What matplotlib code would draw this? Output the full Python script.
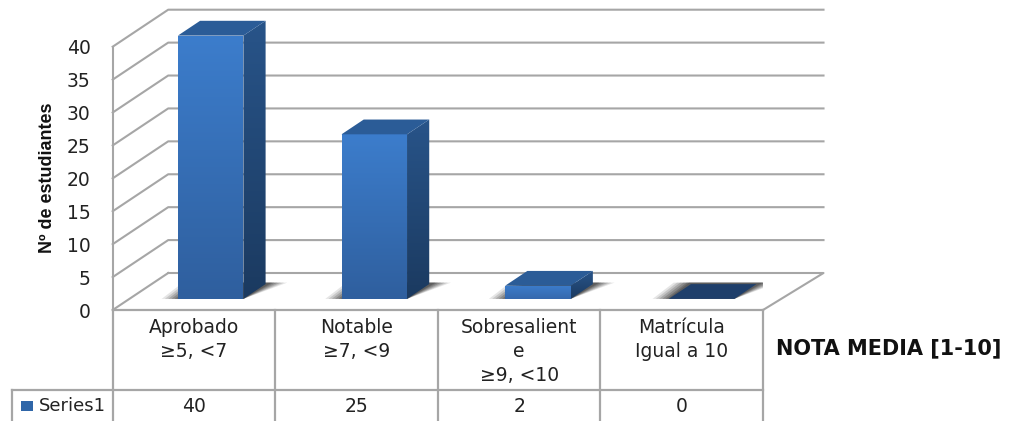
import numpy as np
import matplotlib
matplotlib.use("Agg")
import matplotlib.pyplot as plt
from matplotlib.colors import LinearSegmentedColormap
from matplotlib.lines import Line2D
from matplotlib.patches import Polygon

categories = ["Aprobado\n≥5, <7", "Notable\n≥7, <9", "Sobresalient\ne\n≥9, <10", "Matrícula\nIgual a 10"]
values = [40, 25, 2, 0]
series_name = "Series1"
yticks = [0, 5, 10, 15, 20, 25, 30, 35, 40]

W, H = 1010, 421
LEFT, RIGHT, BOTTOM, TOP = 112.7, 763.0, 310.0, 46.7
GRID = "#a6a6a6"

fig = plt.figure(figsize=(W / 100, H / 100), dpi=100)
ax = fig.add_axes([LEFT / W, 1 - BOTTOM / H, (RIGHT - LEFT) / W, (BOTTOM - TOP) / H])
ax.set_xlim(0, 4)
ax.set_ylim(0, 40)
ax.patch.set_visible(False)

# depth offset of the back wall, in data units
depth_x = 55.5 / ((RIGHT - LEFT) / 4)
depth_y = 37.0 / ((BOTTOM - TOP) / 40)
# the back wall runs a little further than the front edge
back_end = 4 + 5 / ((RIGHT - LEFT) / 4)
# so the bars are spaced a touch wider than the table columns
bar_step = 1.0065


def proj(x, v, d):
    return (x + depth_x * d, v + depth_y * d)


def px_y(y):
    # pixel row to data value, for the table under the axes
    return (BOTTOM - y) * 40 / (BOTTOM - TOP)


def px_x(x):
    return (x - LEFT) * 4 / (RIGHT - LEFT)


def grad_face(pts, c_top, c_bot, z):
    xs = [p[0] for p in pts]
    ys = [p[1] for p in pts]
    cmap = LinearSegmentedColormap.from_list("f", [c_top, c_bot])
    im = ax.imshow(np.linspace(0, 1, 128).reshape(-1, 1), cmap=cmap, aspect="auto",
                   extent=(min(xs), max(xs), min(ys), max(ys)), zorder=z, origin="upper")
    poly = Polygon(pts, closed=True, transform=ax.transData, fc="none", ec="none", clip_on=False)
    ax.add_patch(poly)
    im.set_clip_path(poly)
    im.set_clip_box(fig.bbox)


# walls and floor
for v in yticks:
    if v == 0:
        continue
    a = proj(0, v, 0)
    b = proj(0, v, 1)
    c = proj(back_end, v, 1)
    ax.plot([a[0], b[0], c[0]], [a[1], b[1], c[1]], color=GRID, lw=1.5, zorder=1, clip_on=False)
a, b, c, d = proj(0, 0, 0), proj(0, 0, 1), proj(back_end, 0, 1), proj(4, 0, 0)
ax.plot([a[0], b[0]], [a[1], b[1]], color=GRID, lw=1.5, zorder=1, clip_on=False)
ax.plot([b[0], c[0], d[0]], [b[1], c[1], d[1]], color=GRID, lw=1.5, zorder=1, clip_on=False)

# bars
bar_w = 0.403
d0, d1 = 0.3, 0.7
for i, val in enumerate(values):
    x0 = i * bar_step + 0.5 - bar_w / 2
    x1 = x0 + bar_w

    # soft floor shadow, stacked from wide and light to narrow and dark
    for grow, alpha in zip([0.1, 0.08, 0.06, 0.04, 0.02, 0.005], [0.12, 0.16, 0.2, 0.24, 0.28, 0.3]):
        sh = [proj(x0 - grow, 0, d0), proj(x1, 0, d0),
              proj(x1 + grow + 0.02, 0, d1 + 0.04), proj(x0 - grow - 0.02, 0, d1 + 0.04)]
        ax.add_patch(Polygon(sh, closed=True, fc="#303030", ec="none", alpha=alpha, zorder=2))

    if val == 0:
        top = [proj(x0, 0, d0), proj(x1, 0, d0), proj(x1, 0, d1), proj(x0, 0, d1)]
        ax.add_patch(Polygon(top, closed=True, fc="#1f3f6b", ec="none", zorder=3))
        continue

    front = [proj(x0, 0, d0), proj(x1, 0, d0), proj(x1, val, d0), proj(x0, val, d0)]
    side = [proj(x1, 0, d0), proj(x1, 0, d1), proj(x1, val, d1), proj(x1, val, d0)]
    top = [proj(x0, val, d0), proj(x1, val, d0), proj(x1, val, d1), proj(x0, val, d1)]
    c_bot = "#2f5f9e" if val > 5 else "#3568ad"
    grad_face(front, "#3c7dcc", c_bot, 4)
    grad_face(side, "#285489", "#1b3a60", 4)
    ax.add_patch(Polygon(top, closed=True, fc="#2b5c97", ec="none", zorder=4, clip_on=False))
ax.set_xlim(0, 4)
ax.set_ylim(0, 40)

# axis
ax.set_xticks([])
ax.set_yticks(yticks)
ax.tick_params(axis="y", length=0, pad=16, labelsize=13.5, labelcolor="#222222")
for name in ["top", "right", "bottom"]:
    ax.spines[name].set_visible(False)
ax.spines["left"].set_color(GRID)
ax.spines["left"].set_linewidth(1.5)
ax.set_ylabel("Nº de estudiantes", family="Liberation Sans", fontweight="bold", fontsize=13, color="#111111")
ax.yaxis.set_label_coords((56 - LEFT) / (RIGHT - LEFT), (BOTTOM - 178) / (BOTTOM - TOP))

# data table
y_head, y_row, y_end = px_y(310), px_y(390), px_y(421)
x_leg = px_x(11.5)
table_lines = [([0, 4], [y_head, y_head]), ([x_leg, 4], [y_row, y_row]), ([x_leg, x_leg], [y_row, y_end])]
for i in range(5):
    table_lines.append(([i, i], [y_head, y_end]))
for xs, ys in table_lines:
    ax.add_line(Line2D(xs, ys, color=GRID, lw=1.6, clip_on=False, zorder=5))

for i, cat in enumerate(categories):
    ax.text(i + 0.5, px_y(318), cat, ha="center", va="top", fontsize=13.5, color="#222222",
            linespacing=1.33, clip_on=False)
    ax.text(i + 0.5, px_y(406), str(values[i]), ha="center", va="center", fontsize=13.5,
            color="#222222", clip_on=False)

ax.add_patch(Polygon([(px_x(21), px_y(401)), (px_x(33), px_y(401)), (px_x(33), px_y(411)), (px_x(21), px_y(411))],
                     closed=True, fc="#2f66a8", ec="none", clip_on=False))
ax.text(px_x(39), px_y(406), series_name, ha="left", va="center", fontsize=13, color="#222222", clip_on=False)

fig.text(776 / W, 1 - 348 / H, "NOTA MEDIA [1-10]", family="DejaVu Sans", fontweight="bold",
         fontsize=15, color="#111111", ha="left", va="center")

fig.savefig("out.png", dpi=100)
